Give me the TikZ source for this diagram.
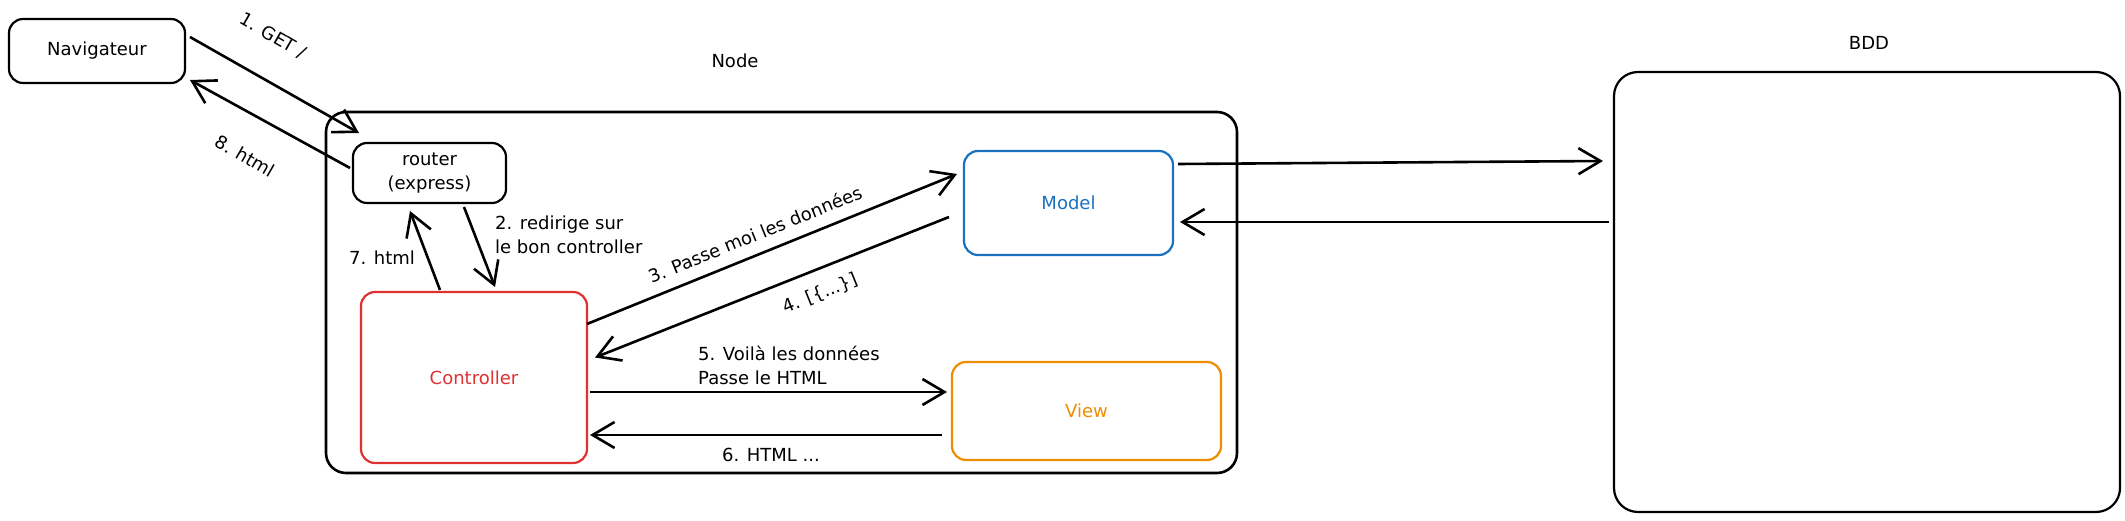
\documentclass[tikz,border=0pt]{standalone}
\usepackage{fontspec}
\setmainfont{DejaVu Sans}
\usetikzlibrary{arrows.meta}
\definecolor{ctrlred}{HTML}{E03131}
\definecolor{modelblue}{HTML}{1971C2}
\definecolor{vieworange}{HTML}{F08C00}

\begin{document}
\begin{tikzpicture}[x=1pt, y=-1pt, font=\fontsize{18}{24}\selectfont,
  box/.style={draw, line width=2.2pt, rounded corners=14pt, inner sep=0pt, outer sep=0pt},
  arr/.style={line width=2.6pt, -{Straight Barb[length=22pt,width=26pt]}},
  lbl/.style={inner sep=0pt}]
\useasboundingbox (0,0) rectangle (2125,521);

% Browser
\node[box, minimum width=176pt, minimum height=64pt] (nav) at (97,51) {Navigateur};

% Node server
\node[box, line width=2.6pt, rounded corners=20pt, minimum width=911pt, minimum height=361pt] (srv) at (781.5,292.5) {};
\node[lbl] (srvlbl) at (735,61) {Node};

\node[box, align=center, minimum width=153pt, minimum height=60pt] (router) at (429.5,173) {router\\(express)};
\node[box, draw=ctrlred, text=ctrlred, minimum width=226pt, minimum height=171pt] (ctrl) at (474,377.5) {Controller};
\node[box, draw=modelblue, text=modelblue, minimum width=209pt, minimum height=104pt] (model) at (1068.5,203) {Model};
\node[box, draw=vieworange, text=vieworange, minimum width=269pt, minimum height=98pt] (view) at (1086.5,411) {View};

% Database
\node[box, rounded corners=24pt, minimum width=506pt, minimum height=440pt] (bdd) at (1867,292) {};
\node[lbl] (bddlbl) at (1869,43) {BDD};

% Requests
\draw[arr] ([shift={(5,18)}]nav.north east) -- ([shift={(6,-10)}]router.north west);
\draw[arr] ([shift={(34.5,4)}]router.south) -- ([shift={(21,-5)}]ctrl.north);
\draw[arr] ([shift={(0,-53.5)}]ctrl.east) -- ([shift={(-7,-29)}]model.west);
\draw[arr] ([shift={(-15,14)}]model.west) -- ([shift={(8,-20)}]ctrl.east);
\draw[arr] ([shift={(3,14.5)}]ctrl.east) -- ([shift={(-5,-19)}]view.west);
\draw[arr] ([shift={(-10,24)}]view.west) -- ([shift={(3,57.5)}]ctrl.east);
\draw[arr] ([shift={(-34,-2)}]ctrl.north) -- ([shift={(-19.5,8)}]router.south);
\draw[arr] ([shift={(-3,-5)}]router.west) -- ([shift={(5,-3)}]nav.south east);

% Model <-> BDD
\draw[arr] ([shift={(5,-39)}]model.east) -- ([shift={(-11,-131)}]bdd.west);
\draw[arr] ([shift={(-5,-70)}]bdd.west) -- ([shift={(7,19)}]model.east);

% Labels
\node[lbl, rotate=-30] (l1) at (273,36) {1. GET /};
\node[lbl, anchor=west, align=left] (l2) at (495,234.5) {2. redirige sur\\le bon controller};
\node[lbl, rotate=22] (l3) at (755,234) {3. Passe moi les données};
\node[lbl, rotate=22] (l4) at (820,294) {4. [\{...\}]};
\node[lbl, anchor=west, align=left] (l5) at (698,365) {5. Voilà les données\\Passe le HTML};
\node[lbl] (l6) at (771,455) {6. HTML ...};
\node[lbl] (l7) at (382,258) {7. html};
\node[lbl, rotate=-30] (l8) at (245,156) {8. html};
\end{tikzpicture}
\end{document}
